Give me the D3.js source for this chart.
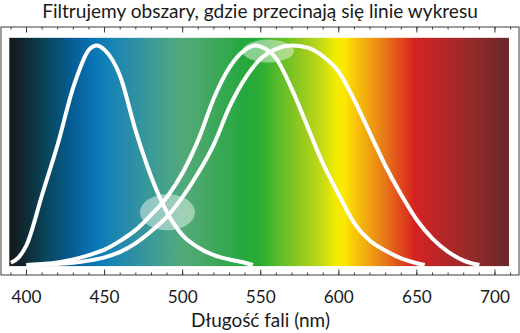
<!DOCTYPE html>
<html><head><meta charset="utf-8">
<script src="https://cdn.jsdelivr.net/npm/d3@7"></script>
<style>
html,body{margin:0;padding:0;background:#fff;}
svg{display:block;}
text{font-family:Lato,"Open Sans",sans-serif;fill:#1a1a1a;}
</style></head>
<body>
<svg id="chart" width="520" height="333"></svg>
<script>
// ---------- data ----------
const titleText = "Filtrujemy obszary, gdzie przecinają się linie wykresu";
const xTitleText = "Długość fali (nm)";
const majorTicks = [400, 450, 500, 550, 600, 650, 700];
const minorTicks = [390,400,410,420,430,440,450,460,470,480,490,500,510,520,530,540,550,560,570,580,590,600,610,620,630,640,650,660,670,680,690,700,710];

const blueNm  = [390, 395, 400, 410, 420, 430, 440, 445, 450, 460, 470, 480, 490, 500, 510, 520, 530, 540, 545];
const blueVal = [0.01,0.035,0.09,0.32,0.55,0.81,0.98,1.0, 0.98,0.86,0.61,0.40,0.24,0.135,0.08,0.045,0.025,0.01,0.0];

const greenNm  = [400, 410, 420, 430, 440, 450, 460, 470, 480, 490, 500, 510, 520, 530, 540, 547, 550, 560, 570, 580, 590, 600, 610, 620, 630, 640, 650, 655];
const greenVal = [0.0,0.005,0.012,0.025,0.045,0.07,0.11,0.16,0.23,0.31,0.42,0.57,0.76,0.9,0.98,1.0,0.995,0.94,0.8,0.63,0.46,0.32,0.19,0.11,0.065,0.03,0.008,0.0];

const redNm  = [400, 410, 420, 430, 440, 450, 460, 470, 480, 490, 500, 510, 520, 530, 540, 550, 560, 570, 580, 590, 600, 610, 620, 630, 640, 650, 660, 670, 680, 690];
const redVal = [0.0,0.002,0.005,0.01,0.02,0.035,0.06,0.1,0.155,0.22,0.31,0.42,0.55,0.72,0.85,0.94,0.985,1.0,0.99,0.95,0.88,0.75,0.6,0.45,0.32,0.205,0.12,0.06,0.02,0.0];

// highlighted crossings: centre (nm, value) and radii (nm, value)
const highlightCenters = [[554.7, 0.975], [490.3, 0.24]];
const highlightRadii   = [[16.5, 0.052], [17.6, 0.082]];

// spectrum colour stops (nm, colour)
const spectrumNm  = [389, 399, 415, 431, 444.5, 453.5, 466, 479, 492, 501.5, 511, 524, 540, 549.6, 562, 575, 588, 597.6, 604, 610, 620, 629.5, 639, 648.7, 664.7, 684, 709];
const spectrumCol = ["#141618","#0f2a33","#074a63","#06609a","#0a77b8","#1583b5","#2a8da8","#3a9a98","#4aa488","#52aa78","#4aa86a","#38a855","#25a83d","#2aac34","#5cbc2a","#90c820","#c0d818","#f0ec00","#fbe800","#f8c808","#f0a010","#e87818","#e04c1c","#d62222","#b82626","#962a2a","#6a282a"];

// ---------- layout ----------
const frame = {left: 1, right: 519, top: 27, bottom: 275};
const x = d3.scaleLinear().domain([400, 700]).range([26.5, 494.95]);
const y = d3.scaleLinear().domain([0, 1]).range([265, 45.5]);
const spectrumExtent = {nm0: 389, nm1: 709, v0: -0.005, v1: 1.035};

const svg = d3.select("#chart");
const defs = svg.append("defs");
const grad = defs.append("linearGradient").attr("id", "spec")
  .attr("gradientUnits", "userSpaceOnUse")
  .attr("x1", x(spectrumExtent.nm0)).attr("x2", x(spectrumExtent.nm1))
  .attr("y1", 0).attr("y2", 0);
spectrumNm.forEach((nm, i) => {
  grad.append("stop")
    .attr("offset", (nm - spectrumExtent.nm0) / (spectrumExtent.nm1 - spectrumExtent.nm0))
    .attr("stop-color", spectrumCol[i]);
});

// frame
svg.append("rect")
  .attr("x", frame.left).attr("y", frame.top)
  .attr("width", frame.right - frame.left).attr("height", frame.bottom - frame.top)
  .attr("fill", "#fff").attr("stroke", "#3a3a3a").attr("stroke-width", 1);

// spectrum
svg.append("rect")
  .attr("x", x(spectrumExtent.nm0)).attr("y", y(spectrumExtent.v1))
  .attr("width", x(spectrumExtent.nm1) - x(spectrumExtent.nm0))
  .attr("height", y(spectrumExtent.v0) - y(spectrumExtent.v1))
  .attr("fill", "url(#spec)");

// curves
const line = d3.line().x(d => x(d[0])).y(d => y(d[1])).curve(d3.curveMonotoneX);
[[blueNm, blueVal], [greenNm, greenVal], [redNm, redVal]].forEach(([nm, v]) => {
  svg.append("path")
    .attr("d", line(nm.map((n, i) => [n, v[i]])))
    .attr("fill", "none").attr("stroke", "#fff")
    .attr("stroke-width", 4).attr("stroke-linejoin", "round");
});

// highlight ellipses
highlightCenters.forEach((c, i) => {
  const r = highlightRadii[i];
  svg.append("ellipse")
    .attr("cx", x(c[0])).attr("cy", y(c[1]))
    .attr("rx", x(c[0] + r[0]) - x(c[0]))
    .attr("ry", y(c[1] - r[1]) - y(c[1]))
    .attr("fill", "#fff").attr("fill-opacity", 0.45);
});

// axes: ticks inside the frame
function drawTicks(yPos, dir) {
  const g = svg.append("g");
  g.selectAll("line.minor").data(minorTicks).join("line")
    .attr("x1", d => x(d)).attr("x2", d => x(d))
    .attr("y1", yPos).attr("y2", yPos + dir * 2.5)
    .attr("stroke", "#3a3a3a").attr("stroke-width", 1);
  g.selectAll("line.major").data(majorTicks).join("line")
    .attr("x1", d => x(d)).attr("x2", d => x(d))
    .attr("y1", yPos).attr("y2", yPos + dir * 5.5)
    .attr("stroke", "#3a3a3a").attr("stroke-width", 1);
}
drawTicks(frame.top, 1);
drawTicks(frame.bottom, -1);

// text with fitted size
function fitText(sel, target) {
  sel.attr("font-size", 20);
  const w = sel.node().getComputedTextLength();
  sel.attr("font-size", 20 * target / w);
}
const labels = svg.append("g").selectAll("text").data(majorTicks).join("text")
  .attr("x", d => x(d)).attr("y", 302.5).attr("text-anchor", "middle")
  .text(d => d);
labels.each(function(d, i) { if (i === 0) fitText(d3.select(this), 30); });
labels.attr("font-size", d3.select(labels.node()).attr("font-size"));

const xt = svg.append("text").attr("x", 260.5).attr("y", 327).attr("text-anchor", "middle").text(xTitleText);
fitText(xt, 139);
const tt = svg.append("text").attr("x", 260).attr("y", 17.5).attr("text-anchor", "middle").text(titleText);
fitText(tt, 436);
</script>
</body></html>
